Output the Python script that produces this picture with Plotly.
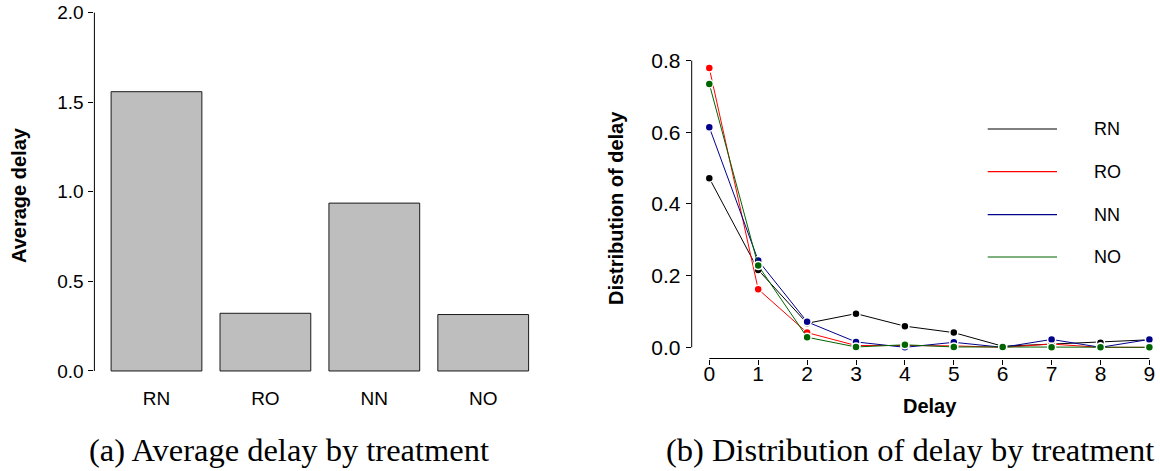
import plotly.graph_objects as go

# Panel (a): mean delay per treatment
treatments = ["RN", "RO", "NN", "NO"]
avg_delay = [1.559, 0.322, 0.937, 0.315]

# Panel (b): distribution of delay per treatment
delay_values = [0, 1, 2, 3, 4, 5, 6, 7, 8, 9]
dist_RN = [0.472, 0.216, 0.067, 0.094, 0.059, 0.041, 0.003, 0.009, 0.013, 0.021]
dist_RO = [0.779, 0.162, 0.041, 0.005, 0.005, 0.004, 0.000, 0.009, 0.000, 0.000]
dist_NN = [0.614, 0.242, 0.071, 0.015, 0.000, 0.014, 0.000, 0.022, 0.000, 0.022]
dist_NO = [0.735, 0.228, 0.028, 0.001, 0.007, 0.001, 0.001, 0.000, 0.000, 0.000]

series_colors = {"RN": "#000000", "RO": "#FF0000", "NN": "#00008B", "NO": "#006400"}
series_values = {"RN": dist_RN, "RO": dist_RO, "NN": dist_NN, "NO": dist_NO}

W, H = 1160, 471
SANS = "Liberation Sans, Arial, Helvetica, sans-serif"
SERIF = "Liberation Serif, Times New Roman, serif"


def px_x(p):
    return p / W


def px_y(p):
    return 1 - p / H


fig = go.Figure()

# ---- bar chart -------------------------------------------------------------
fig.add_trace(go.Bar(
    x=treatments, y=avg_delay,
    marker=dict(color="#BEBEBE", line=dict(color="#1a1a1a", width=1)),
    xaxis="x", yaxis="y", showlegend=False,
))

# ---- distribution lines (type "b" style points with a white halo) ----------
for name in ["RN", "RO", "NN", "NO"]:
    fig.add_trace(go.Scatter(
        x=delay_values, y=series_values[name], mode="lines+markers", name=name,
        line=dict(color=series_colors[name], width=1),
        marker=dict(color=series_colors[name], size=8,
                    line=dict(color="white", width=1.5)),
        xaxis="x2", yaxis="y2", showlegend=False,
    ))

tick_font_a = dict(family=SANS, size=19, color="#000000")
tick_font_b = dict(family=SANS, size=21, color="#000000")

fig.update_layout(
    width=W, height=H,
    margin=dict(l=0, r=0, t=0, b=0, pad=0),
    paper_bgcolor="white", plot_bgcolor="white",
    bargap=0.1667,
    xaxis=dict(
        domain=[px_x(94.4), px_x(545.3)], range=[-0.57, 3.57], automargin=False,
        type="category", showline=False, showgrid=False, zeroline=False,
        ticks="", tickfont=tick_font_a, ticklabelstandoff=0,
    ),
    yaxis=dict(
        domain=[px_y(385.3), 1.0], range=[-0.08, 2.0709], automargin=False,
        tickvals=[0, 0.5, 1.0, 1.5, 2.0], tickformat=".1f",
        showline=False, showgrid=False, zeroline=False,
        ticks="outside", ticklen=5, tickwidth=1, tickcolor="#000000",
        tickfont=tick_font_a, ticklabelstandoff=1,
    ),
    xaxis2=dict(
        domain=[px_x(691.7), 1.0], range=[-0.36, 9.217], anchor="y2", automargin=False,
        tickvals=delay_values, showline=False, showgrid=False, zeroline=False,
        ticks="outside", ticklen=5, tickwidth=1, tickcolor="#000000",
        tickfont=tick_font_b, ticklabelstandoff=-9,
    ),
    yaxis2=dict(
        domain=[px_y(358.5), px_y(57)], range=[-0.0312, 0.810], anchor="x2", automargin=False,
        tickvals=[0, 0.2, 0.4, 0.6, 0.8], tickformat=".1f",
        showline=False, showgrid=False, zeroline=False,
        ticks="outside", ticklen=5, tickwidth=1, tickcolor="#000000",
        tickfont=tick_font_b, ticklabelstandoff=1,
    ),
)

# Detached axis lines spanning first to last tick
axis_line = dict(color="#000000", width=1)
fig.add_shape(type="line", xref="x domain", yref="y", x0=0, x1=0, y0=0, y1=2.0, line=axis_line)
fig.add_shape(type="line", xref="x2 domain", yref="y2", x0=0, x1=0, y0=0, y1=0.8, line=axis_line)
fig.add_shape(type="line", xref="x2", yref="y2 domain", x0=0, x1=9, y0=0, y1=0, line=axis_line)

# Axis titles
title_font = dict(family=SANS, size=20, color="#000000")
fig.add_annotation(text="<b>Average delay</b>", x=px_x(18.5), y=px_y(195.5), xref="paper", yref="paper",
                   textangle=-90, showarrow=False, font=title_font, xanchor="center", yanchor="middle")
fig.add_annotation(text="<b>Distribution of delay</b>", x=px_x(616), y=px_y(208), xref="paper", yref="paper",
                   textangle=-90, showarrow=False, font=title_font, xanchor="center", yanchor="middle")
fig.add_annotation(text="<b>Delay</b>", x=px_x(929.7), y=px_y(406), xref="paper", yref="paper",
                   showarrow=False, font=title_font, xanchor="center", yanchor="middle")

# Legend for panel (b)
legend_rows = [129, 171.7, 214.7, 257]
for name, row in zip(["RN", "RO", "NN", "NO"], legend_rows):
    fig.add_shape(type="line", xref="paper", yref="paper",
                  x0=px_x(987.7), x1=px_x(1057), y0=px_y(row), y1=px_y(row),
                  line=dict(color=series_colors[name], width=1.2))
    fig.add_annotation(text=name, x=px_x(1091.5), y=px_y(row), xref="paper", yref="paper",
                       showarrow=False, xanchor="left", yanchor="middle",
                       font=dict(family=SANS, size=18, color="#000000"))

# Sub-figure captions
caption_font = dict(family=SERIF, size=32.5, color="#000000")
fig.add_annotation(text="(a) Average delay by treatment", x=px_x(289), y=px_y(450),
                   xref="paper", yref="paper", showarrow=False, xanchor="center", yanchor="middle",
                   font=caption_font)
fig.add_annotation(text="(b) Distribution of delay by treatment", x=px_x(909.5), y=px_y(450),
                   xref="paper", yref="paper", showarrow=False, xanchor="center", yanchor="middle",
                   font=caption_font)

fig.write_html("out.html")
